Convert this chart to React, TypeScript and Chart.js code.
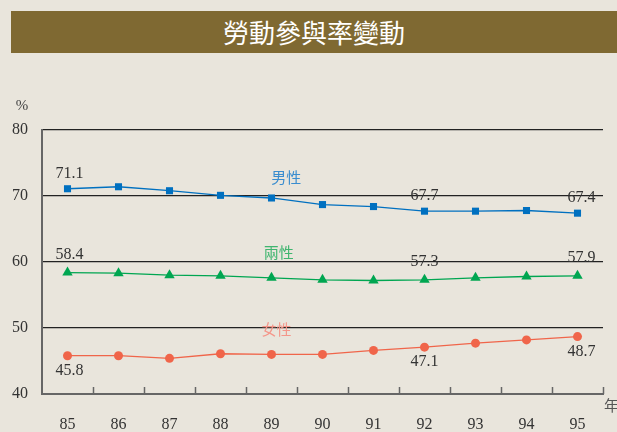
import React, { useEffect, useRef } from 'react';
import { Chart, registerables } from 'chart.js';

Chart.register(...registerables);

const titleText = '勞動參與率變動';
const years = ['85', '86', '87', '88', '89', '90', '91', '92', '93', '94', '95'];
const male = [71.1, 71.4, 70.8, 70.1, 69.7, 68.7, 68.4, 67.7, 67.7, 67.8, 67.4];
const both = [58.4, 58.3, 58.0, 57.9, 57.6, 57.3, 57.2, 57.3, 57.6, 57.8, 57.9];
const female = [45.8, 45.8, 45.4, 46.1, 46.0, 46.0, 46.6, 47.1, 47.7, 48.2, 48.7];
const labeledIdx = [0, 7, 10];
const seriesNames = ['男性', '兩性', '女性'];
const seriesNameAnchorX = [4.29, 4.14, 4.1];
const seriesNameAnchorY = [72.9, 61.4, 49.75];
const yMin = 40;
const yMax = 80;
const yStep = 10;
const yUnit = '%';
const xUnit = '年';

const colors = ['#0070c0', '#00a651', '#f0654a'];
const nameColors = ['#3a8dcf', '#3fb56f', '#f4968a'];
const labelAbove = [true, true, false];

const overlay = {
  id: 'overlay',
  afterDatasetsDraw(chart: any) {
    const ctx = chart.ctx;
    const xs = chart.scales.x;
    const ys = chart.scales.y;
    const ca = chart.chartArea;
    ctx.save();
    // inward tick marks on x axis
    ctx.strokeStyle = '#666';
    ctx.lineWidth = 1.5;
    for (let i = 1; i <= years.length; i++) {
      const x = Math.round(xs.getPixelForValue(i - 0.5)) + 0.5;
      ctx.beginPath();
      ctx.moveTo(x, ca.bottom);
      ctx.lineTo(x, ca.bottom - 7);
      ctx.stroke();
    }
    // value labels
    ctx.font = '16px "Liberation Serif", serif';
    ctx.fillStyle = '#333';
    ctx.textAlign = 'center';
    ctx.textBaseline = 'middle';
    chart.data.datasets.forEach((ds: any, d: number) => {
      const meta = chart.getDatasetMeta(d);
      labeledIdx.forEach((i) => {
        const pt = meta.data[i];
        const v = ds.data[i];
        const dy = labelAbove[d] ? (d === 1 ? -18 : -15) : 15;
        const dx = i === 0 ? 2 : i === years.length - 1 ? 4 : 0;
        ctx.fillText(v.toFixed(1), pt.x + dx, pt.y + dy);
      });
    });
    // series names
    ctx.font = '15px "Noto Sans CJK TC", sans-serif';
    seriesNames.forEach((n, k) => {
      ctx.fillStyle = nameColors[k];
      ctx.fillText(n, xs.getPixelForValue(seriesNameAnchorX[k]), ys.getPixelForValue(seriesNameAnchorY[k]));
    });
    // units
    ctx.fillStyle = '#444';
    ctx.font = '15px "Liberation Serif", serif';
    ctx.fillText(yUnit, 22, ca.top - 24);
    ctx.font = '15px "Noto Sans CJK TC", sans-serif';
    ctx.fillStyle = '#555';
    ctx.textAlign = 'left';
    ctx.fillText(xUnit, ca.right + 1, ca.bottom + 11);
    ctx.restore();
  },
};

export default function App() {
  const ref = useRef<HTMLCanvasElement | null>(null);
  useEffect(() => {
    if (!ref.current) return;
    const chart = new Chart(ref.current, {
      type: 'line',
      data: {
        labels: years,
        datasets: [
          {
            label: seriesNames[0],
            data: male,
            borderColor: colors[0],
            backgroundColor: colors[0],
            borderWidth: 1.3,
            pointStyle: 'rect',
            pointRadius: 5,
            pointBorderWidth: 0,
          },
          {
            label: seriesNames[1],
            data: both,
            borderColor: colors[1],
            backgroundColor: colors[1],
            borderWidth: 1.3,
            pointStyle: 'triangle',
            pointRadius: 6,
            pointBorderWidth: 0,
          },
          {
            label: seriesNames[2],
            data: female,
            borderColor: colors[2],
            backgroundColor: colors[2],
            borderWidth: 1.3,
            pointStyle: 'circle',
            pointRadius: 4.5,
            pointBorderWidth: 0,
          },
        ],
      },
      options: {
        responsive: false,
        animation: false,
        layout: { padding: { top: 130, right: 14, left: 0, bottom: 0 } },
        plugins: { legend: { display: false }, tooltip: { enabled: false }, title: { display: false } },
        scales: {
          x: {
            offset: true,
            grid: { display: false, drawTicks: false },
            border: { display: true, color: '#666', width: 2 },
            ticks: {
              color: '#333',
              font: { family: '"Liberation Serif", serif', size: 16 },
              padding: 21,
              maxRotation: 0,
            },
            afterFit(scale: any) {
              scale.height = 38;
            },
          },
          y: {
            min: yMin,
            max: yMax,
            grid: {
              drawTicks: false,
              color: (c: any) => (c.tick && c.tick.value === yMin ? 'rgba(0,0,0,0)' : '#222'),
              lineWidth: 1.2,
            },
            border: { display: true, color: '#666', width: 2 },
            ticks: {
              stepSize: yStep,
              color: '#333',
              font: { family: '"Liberation Serif", serif', size: 16 },
              padding: 14,
            },
            afterFit(scale: any) {
              scale.width = 42;
            },
          },
        },
      },
      plugins: [overlay],
    });
    return () => chart.destroy();
  }, []);

  return (
    <div style={{ position: 'fixed', left: 0, top: 0, width: 617, height: 432, background: '#e9e5dc', overflow: 'hidden' }}>
      <canvas ref={ref} width={617} height={432} style={{ position: 'absolute', left: 0, top: 0, display: 'block' }} />
      <div
        style={{
          position: 'absolute',
          left: 11,
          top: 11,
          width: 606,
          height: 42,
          background: '#7f6932',
          color: '#fff',
          fontFamily: '"Noto Sans CJK TC", sans-serif',
          fontWeight: 400,
          fontSize: 26,
          lineHeight: '42px',
          textAlign: 'center',
        }}
      >
        {titleText}
      </div>
    </div>
  );
}
